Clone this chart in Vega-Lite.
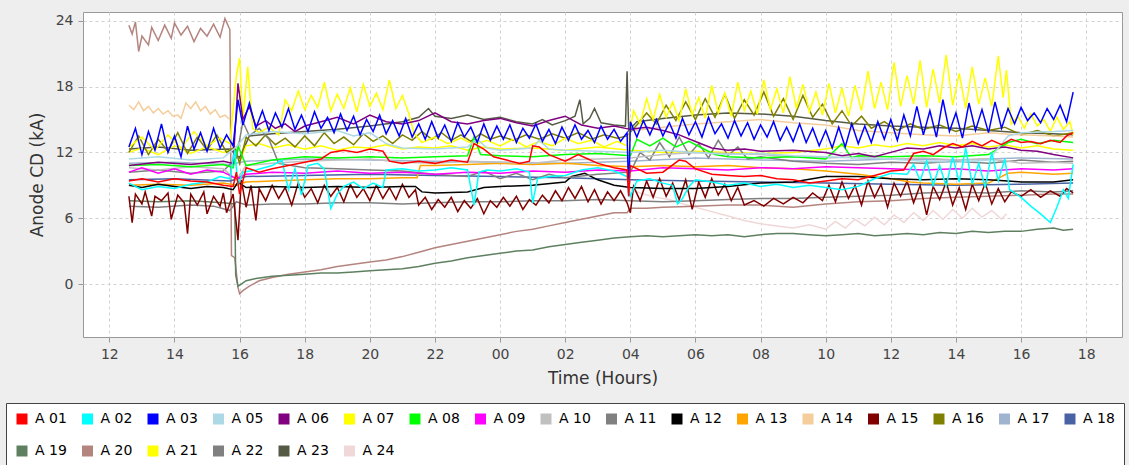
{
"$schema":"https://vega.github.io/schema/vega-lite/v6.json",
"width":1039,"height":325,
"autosize":{"type":"none"},
"padding":{"left":83,"top":12,"right":7,"bottom":128},
"background":"#eeeeee",
"config":{
 "font":"DejaVu Sans",
 "view":{"fill":"white","stroke":"#999999","strokeWidth":1},
 "axis":{"labelFont":"DejaVu Sans","titleFont":"DejaVu Sans","labelFontSize":14,"titleFontSize":17,"titleFontWeight":"normal","labelColor":"#444444","titleColor":"#333333","tickColor":"#999999","tickSize":5,"domain":false,"grid":true,"gridColor":"#d2d2d2","gridDash":[3,3],"gridWidth":1,"labelFlush":false,"labelOverlap":false}
},
"data":{"values":[
{"s":"A 24","t":28.0,"v":8.6},{"s":"A 24","t":28.4,"v":8.2},{"s":"A 24","t":28.8,"v":7.9},{"s":"A 24","t":29.2,"v":7.7},{"s":"A 24","t":29.5,"v":7.4},{"s":"A 24","t":30,"v":7.0},{"s":"A 24","t":30.5,"v":6.6},{"s":"A 24","t":31,"v":6.2},{"s":"A 24","t":31.5,"v":5.8},{"s":"A 24","t":32,"v":5.5},{"s":"A 24","t":32.5,"v":5.3},{"s":"A 24","t":33,"v":5.1},{"s":"A 24","t":33.5,"v":5.4},{"s":"A 24","t":34,"v":5.0},{"s":"A 24","t":34.3,"v":5.7},{"s":"A 24","t":34.6,"v":5.1},{"s":"A 24","t":34.9,"v":5.9},{"s":"A 24","t":35.2,"v":5.3},{"s":"A 24","t":35.5,"v":6.1},{"s":"A 24","t":35.8,"v":5.4},{"s":"A 24","t":36.1,"v":6.3},{"s":"A 24","t":36.4,"v":5.6},{"s":"A 24","t":36.7,"v":6.5},{"s":"A 24","t":37.0,"v":5.8},{"s":"A 24","t":37.3,"v":6.7},{"s":"A 24","t":37.6,"v":5.9},{"s":"A 24","t":37.9,"v":6.8},{"s":"A 24","t":38.2,"v":6.0},{"s":"A 24","t":38.5,"v":6.9},{"s":"A 24","t":38.8,"v":6.1},{"s":"A 24","t":39.1,"v":6.7},{"s":"A 24","t":39.4,"v":5.9},{"s":"A 24","t":39.55,"v":6.4},
{"s":"A 23","t":12.6,"v":12.3},{"s":"A 23","t":13.5,"v":12.5},{"s":"A 23","t":14.5,"v":12.2},{"s":"A 23","t":15.7,"v":12.3},{"s":"A 23","t":16.0,"v":11.5},{"s":"A 23","t":16.3,"v":13.5},{"s":"A 23","t":17,"v":13.7},{"s":"A 23","t":18,"v":13.9},{"s":"A 23","t":19,"v":14.1},{"s":"A 23","t":20,"v":14.4},{"s":"A 23","t":21,"v":14.8},{"s":"A 23","t":21.5,"v":15.2},{"s":"A 23","t":21.8,"v":16.0},{"s":"A 23","t":22.0,"v":15.3},{"s":"A 23","t":22.5,"v":15.1},{"s":"A 23","t":23,"v":15.4},{"s":"A 23","t":23.5,"v":15.0},{"s":"A 23","t":24,"v":15.2},{"s":"A 23","t":24.5,"v":14.8},{"s":"A 23","t":25,"v":14.6},{"s":"A 23","t":25.3,"v":15.0},{"s":"A 23","t":25.6,"v":14.5},{"s":"A 23","t":26.0,"v":14.9},{"s":"A 23","t":26.3,"v":15.3},{"s":"A 23","t":26.45,"v":16.8},{"s":"A 23","t":26.55,"v":14.6},{"s":"A 23","t":26.75,"v":15.1},{"s":"A 23","t":26.9,"v":16.0},{"s":"A 23","t":27.1,"v":14.7},{"s":"A 23","t":27.5,"v":14.5},{"s":"A 23","t":27.85,"v":14.4},{"s":"A 23","t":27.9,"v":19.4},{"s":"A 23","t":27.95,"v":14.0},{"s":"A 23","t":28.2,"v":14.8},{"s":"A 23","t":29,"v":15.1},{"s":"A 23","t":30,"v":15.4},{"s":"A 23","t":31,"v":15.6},{"s":"A 23","t":32,"v":15.5},{"s":"A 23","t":33,"v":15.3},{"s":"A 23","t":34,"v":14.9},{"s":"A 23","t":35,"v":14.6},{"s":"A 23","t":36,"v":14.4},{"s":"A 23","t":37,"v":14.3},{"s":"A 23","t":38,"v":14.2},{"s":"A 23","t":39,"v":14.0},{"s":"A 23","t":40,"v":13.8},{"s":"A 23","t":41,"v":13.7},{"s":"A 23","t":41.6,"v":13.6},
{"s":"A 22","t":12.6,"v":7.1},{"s":"A 22","t":13.5,"v":7.0},{"s":"A 22","t":14.5,"v":7.2},{"s":"A 22","t":15.2,"v":7.1},{"s":"A 22","t":15.7,"v":6.7},{"s":"A 22","t":15.9,"v":7.5},{"s":"A 22","t":16.2,"v":7.2},{"s":"A 22","t":17,"v":7.3},{"s":"A 22","t":18,"v":7.3},{"s":"A 22","t":19,"v":7.4},{"s":"A 22","t":20,"v":7.4},{"s":"A 22","t":21,"v":7.3},{"s":"A 22","t":22,"v":7.4},{"s":"A 22","t":23,"v":7.5},{"s":"A 22","t":24,"v":7.5},{"s":"A 22","t":25,"v":7.6},{"s":"A 22","t":26,"v":7.6},{"s":"A 22","t":27,"v":7.7},{"s":"A 22","t":28,"v":7.6},{"s":"A 22","t":29,"v":7.5},{"s":"A 22","t":30,"v":7.6},{"s":"A 22","t":31,"v":7.7},{"s":"A 22","t":32,"v":7.8},{"s":"A 22","t":33,"v":7.8},{"s":"A 22","t":34,"v":7.9},{"s":"A 22","t":35,"v":8.0},{"s":"A 22","t":36,"v":8.1},{"s":"A 22","t":37,"v":8.3},{"s":"A 22","t":38,"v":8.4},{"s":"A 22","t":39,"v":8.3},{"s":"A 22","t":40,"v":8.5},{"s":"A 22","t":41,"v":8.4},{"s":"A 22","t":41.6,"v":8.5},
{"s":"A 21","t":12.6,"v":12.0},{"s":"A 21","t":13,"v":12.4},{"s":"A 21","t":13.5,"v":11.8},{"s":"A 21","t":14,"v":12.6},{"s":"A 21","t":14.5,"v":11.9},{"s":"A 21","t":15,"v":12.5},{"s":"A 21","t":15.5,"v":12.0},{"s":"A 21","t":15.8,"v":12.3},{"s":"A 21","t":16.0,"v":11.2},{"s":"A 21","t":16.2,"v":12.6},{"s":"A 21","t":16.6,"v":12.8},{"s":"A 21","t":17,"v":12.4},{"s":"A 21","t":17.5,"v":12.7},{"s":"A 21","t":18,"v":12.3},{"s":"A 21","t":18.5,"v":12.6},{"s":"A 21","t":19,"v":12.2},{"s":"A 21","t":19.5,"v":12.5},{"s":"A 21","t":20,"v":12.4},{"s":"A 21","t":20.5,"v":12.7},{"s":"A 21","t":21,"v":12.3},{"s":"A 21","t":21.5,"v":12.5},{"s":"A 21","t":22,"v":12.4},{"s":"A 21","t":22.5,"v":12.6},{"s":"A 21","t":23,"v":12.2},{"s":"A 21","t":23.5,"v":12.5},{"s":"A 21","t":24,"v":12.3},{"s":"A 21","t":25,"v":12.4},{"s":"A 21","t":26,"v":12.2},{"s":"A 21","t":27,"v":12.5},{"s":"A 21","t":28,"v":12.2},{"s":"A 21","t":29,"v":12.0},{"s":"A 21","t":30,"v":12.1},{"s":"A 21","t":31,"v":12.0},{"s":"A 21","t":32,"v":11.9},{"s":"A 21","t":33,"v":12.0},{"s":"A 21","t":34,"v":12.3},{"s":"A 21","t":34.5,"v":12.6},{"s":"A 21","t":35,"v":12.4},{"s":"A 21","t":35.5,"v":12.7},{"s":"A 21","t":36,"v":12.5},{"s":"A 21","t":36.5,"v":12.8},{"s":"A 21","t":37,"v":12.6},{"s":"A 21","t":37.5,"v":12.9},{"s":"A 21","t":38,"v":12.6},{"s":"A 21","t":38.5,"v":12.8},{"s":"A 21","t":39,"v":12.5},{"s":"A 21","t":39.5,"v":12.7},{"s":"A 21","t":40,"v":12.4},{"s":"A 21","t":40.5,"v":12.6},{"s":"A 21","t":41,"v":12.3},{"s":"A 21","t":41.6,"v":12.2},
{"s":"A 20","t":12.6,"v":23.6},{"s":"A 20","t":12.7,"v":22.8},{"s":"A 20","t":12.8,"v":23.9},{"s":"A 20","t":12.9,"v":21.2},{"s":"A 20","t":13.0,"v":22.6},{"s":"A 20","t":13.2,"v":21.8},{"s":"A 20","t":13.3,"v":23.4},{"s":"A 20","t":13.5,"v":22.2},{"s":"A 20","t":13.7,"v":23.6},{"s":"A 20","t":13.9,"v":22.4},{"s":"A 20","t":14.0,"v":23.8},{"s":"A 20","t":14.2,"v":22.7},{"s":"A 20","t":14.4,"v":23.5},{"s":"A 20","t":14.6,"v":22.1},{"s":"A 20","t":14.8,"v":23.3},{"s":"A 20","t":15.0,"v":22.6},{"s":"A 20","t":15.2,"v":23.7},{"s":"A 20","t":15.4,"v":22.5},{"s":"A 20","t":15.55,"v":24.2},{"s":"A 20","t":15.7,"v":23.2},{"s":"A 20","t":15.75,"v":2.6},{"s":"A 20","t":15.85,"v":2.4},{"s":"A 20","t":15.95,"v":-0.3},{"s":"A 20","t":16.0,"v":-0.9},{"s":"A 20","t":16.1,"v":-0.6},{"s":"A 20","t":16.3,"v":-0.2},{"s":"A 20","t":16.6,"v":0.3},{"s":"A 20","t":17.0,"v":0.6},{"s":"A 20","t":17.5,"v":0.9},{"s":"A 20","t":18.0,"v":1.1},{"s":"A 20","t":18.5,"v":1.3},{"s":"A 20","t":19.0,"v":1.6},{"s":"A 20","t":19.5,"v":1.8},{"s":"A 20","t":20.0,"v":2.0},{"s":"A 20","t":20.5,"v":2.2},{"s":"A 20","t":21.0,"v":2.5},{"s":"A 20","t":21.5,"v":2.9},{"s":"A 20","t":22.0,"v":3.3},{"s":"A 20","t":22.5,"v":3.6},{"s":"A 20","t":23.0,"v":3.9},{"s":"A 20","t":23.5,"v":4.2},{"s":"A 20","t":24.0,"v":4.5},{"s":"A 20","t":24.5,"v":4.8},{"s":"A 20","t":25.0,"v":5.0},{"s":"A 20","t":25.5,"v":5.3},{"s":"A 20","t":26.0,"v":5.6},{"s":"A 20","t":26.5,"v":5.9},{"s":"A 20","t":27.0,"v":6.2},{"s":"A 20","t":27.5,"v":6.5},{"s":"A 20","t":27.9,"v":6.5},{"s":"A 20","t":28.0,"v":6.9},{"s":"A 20","t":28.5,"v":6.9},{"s":"A 20","t":29.0,"v":7.0},{"s":"A 20","t":30.0,"v":7.1},{"s":"A 20","t":31.0,"v":7.2},{"s":"A 20","t":32.0,"v":7.2},{"s":"A 20","t":33.0,"v":7.0},{"s":"A 20","t":34.0,"v":7.3},{"s":"A 20","t":35.0,"v":7.5},{"s":"A 20","t":36.0,"v":7.6},{"s":"A 20","t":37.0,"v":7.8},{"s":"A 20","t":38.0,"v":7.9},{"s":"A 20","t":39.0,"v":8.0},{"s":"A 20","t":40.0,"v":8.1},{"s":"A 20","t":41.0,"v":8.2},{"s":"A 20","t":41.6,"v":8.2},
{"s":"A 19","t":12.6,"v":7.6},{"s":"A 19","t":13.5,"v":7.5},{"s":"A 19","t":14.5,"v":7.6},{"s":"A 19","t":15.5,"v":7.4},{"s":"A 19","t":15.85,"v":7.3},{"s":"A 19","t":15.88,"v":0.8},{"s":"A 19","t":15.95,"v":-0.2},{"s":"A 19","t":16.05,"v":0.0},{"s":"A 19","t":16.2,"v":0.3},{"s":"A 19","t":16.5,"v":0.5},{"s":"A 19","t":17.0,"v":0.7},{"s":"A 19","t":17.5,"v":0.8},{"s":"A 19","t":18.0,"v":0.9},{"s":"A 19","t":18.5,"v":1.0},{"s":"A 19","t":19.0,"v":1.0},{"s":"A 19","t":19.5,"v":1.1},{"s":"A 19","t":20.0,"v":1.2},{"s":"A 19","t":20.5,"v":1.3},{"s":"A 19","t":21.0,"v":1.4},{"s":"A 19","t":21.5,"v":1.6},{"s":"A 19","t":22.0,"v":1.9},{"s":"A 19","t":22.5,"v":2.1},{"s":"A 19","t":23.0,"v":2.4},{"s":"A 19","t":23.5,"v":2.6},{"s":"A 19","t":24.0,"v":2.8},{"s":"A 19","t":24.5,"v":3.0},{"s":"A 19","t":25.0,"v":3.1},{"s":"A 19","t":25.5,"v":3.4},{"s":"A 19","t":26.0,"v":3.6},{"s":"A 19","t":26.5,"v":3.8},{"s":"A 19","t":27.0,"v":4.0},{"s":"A 19","t":27.5,"v":4.2},{"s":"A 19","t":28.0,"v":4.3},{"s":"A 19","t":28.5,"v":4.4},{"s":"A 19","t":29.0,"v":4.3},{"s":"A 19","t":29.5,"v":4.4},{"s":"A 19","t":30.0,"v":4.5},{"s":"A 19","t":30.5,"v":4.4},{"s":"A 19","t":31.0,"v":4.5},{"s":"A 19","t":31.5,"v":4.3},{"s":"A 19","t":32.0,"v":4.5},{"s":"A 19","t":32.5,"v":4.6},{"s":"A 19","t":33.0,"v":4.6},{"s":"A 19","t":33.5,"v":4.5},{"s":"A 19","t":34.0,"v":4.4},{"s":"A 19","t":34.5,"v":4.5},{"s":"A 19","t":35.0,"v":4.6},{"s":"A 19","t":35.5,"v":4.4},{"s":"A 19","t":36.0,"v":4.5},{"s":"A 19","t":36.5,"v":4.6},{"s":"A 19","t":37.0,"v":4.5},{"s":"A 19","t":37.5,"v":4.7},{"s":"A 19","t":38.0,"v":4.6},{"s":"A 19","t":38.5,"v":4.8},{"s":"A 19","t":39.0,"v":4.7},{"s":"A 19","t":39.5,"v":4.8},{"s":"A 19","t":40.0,"v":4.8},{"s":"A 19","t":40.5,"v":5.0},{"s":"A 19","t":41.0,"v":5.1},{"s":"A 19","t":41.3,"v":4.9},{"s":"A 19","t":41.6,"v":5.0},
{"s":"A 18","t":12.6,"v":9.5},{"s":"A 18","t":14,"v":9.6},{"s":"A 18","t":15.7,"v":9.4},{"s":"A 18","t":16.2,"v":9.8},{"s":"A 18","t":18,"v":9.9},{"s":"A 18","t":20,"v":10.0},{"s":"A 18","t":22,"v":9.9},{"s":"A 18","t":24,"v":9.8},{"s":"A 18","t":26,"v":9.7},{"s":"A 18","t":28,"v":9.5},{"s":"A 18","t":30,"v":9.4},{"s":"A 18","t":32,"v":9.3},{"s":"A 18","t":34,"v":9.2},{"s":"A 18","t":36,"v":9.1},{"s":"A 18","t":38,"v":9.0},{"s":"A 18","t":40,"v":9.1},{"s":"A 18","t":41.6,"v":9.2},
{"s":"A 17","t":12.6,"v":11.0},{"s":"A 17","t":14,"v":11.1},{"s":"A 17","t":15.7,"v":10.9},{"s":"A 17","t":16.2,"v":11.2},{"s":"A 17","t":18,"v":11.4},{"s":"A 17","t":20,"v":11.3},{"s":"A 17","t":22,"v":11.2},{"s":"A 17","t":24,"v":11.1},{"s":"A 17","t":26,"v":11.0},{"s":"A 17","t":28,"v":11.2},{"s":"A 17","t":30,"v":11.5},{"s":"A 17","t":32,"v":11.3},{"s":"A 17","t":34,"v":11.2},{"s":"A 17","t":36,"v":11.4},{"s":"A 17","t":38,"v":11.3},{"s":"A 17","t":40,"v":11.5},{"s":"A 17","t":41.6,"v":11.4},
{"s":"A 16","t":12.6,"v":12.0},{"s":"A 16","t":12.9,"v":13.5},{"s":"A 16","t":13.2,"v":11.8},{"s":"A 16","t":13.5,"v":13.2},{"s":"A 16","t":13.8,"v":12.1},{"s":"A 16","t":14.1,"v":13.8},{"s":"A 16","t":14.4,"v":11.9},{"s":"A 16","t":14.7,"v":13.4},{"s":"A 16","t":15.0,"v":12.2},{"s":"A 16","t":15.3,"v":13.6},{"s":"A 16","t":15.6,"v":12.0},{"s":"A 16","t":15.85,"v":12.5},{"s":"A 16","t":16.0,"v":11.0},{"s":"A 16","t":16.2,"v":13.4},{"s":"A 16","t":16.5,"v":12.6},{"s":"A 16","t":16.8,"v":13.6},{"s":"A 16","t":17.1,"v":12.7},{"s":"A 16","t":17.4,"v":13.3},{"s":"A 16","t":17.7,"v":12.5},{"s":"A 16","t":18.0,"v":13.5},{"s":"A 16","t":18.3,"v":12.6},{"s":"A 16","t":18.6,"v":13.8},{"s":"A 16","t":18.9,"v":12.8},{"s":"A 16","t":19.2,"v":13.4},{"s":"A 16","t":19.5,"v":12.7},{"s":"A 16","t":19.8,"v":13.7},{"s":"A 16","t":20.1,"v":13.0},{"s":"A 16","t":20.4,"v":13.5},{"s":"A 16","t":20.7,"v":12.8},{"s":"A 16","t":21.0,"v":13.6},{"s":"A 16","t":21.3,"v":13.1},{"s":"A 16","t":21.6,"v":13.9},{"s":"A 16","t":21.9,"v":13.2},{"s":"A 16","t":22.2,"v":13.8},{"s":"A 16","t":22.5,"v":13.1},{"s":"A 16","t":22.8,"v":13.6},{"s":"A 16","t":23.1,"v":13.0},{"s":"A 16","t":23.4,"v":13.7},{"s":"A 16","t":23.7,"v":13.2},{"s":"A 16","t":24.0,"v":13.5},{"s":"A 16","t":24.4,"v":13.1},{"s":"A 16","t":24.8,"v":13.6},{"s":"A 16","t":25.2,"v":13.2},{"s":"A 16","t":25.6,"v":13.7},{"s":"A 16","t":26.0,"v":13.3},{"s":"A 16","t":26.4,"v":13.8},{"s":"A 16","t":26.8,"v":13.2},{"s":"A 16","t":27.2,"v":13.6},{"s":"A 16","t":27.6,"v":13.3},{"s":"A 16","t":27.9,"v":13.5},{"s":"A 16","t":28.2,"v":14.5},{"s":"A 16","t":28.5,"v":15.6},{"s":"A 16","t":28.8,"v":14.6},{"s":"A 16","t":29.1,"v":16.3},{"s":"A 16","t":29.4,"v":14.9},{"s":"A 16","t":29.7,"v":16.6},{"s":"A 16","t":30.0,"v":15.0},{"s":"A 16","t":30.3,"v":16.9},{"s":"A 16","t":30.6,"v":15.2},{"s":"A 16","t":30.9,"v":17.3},{"s":"A 16","t":31.2,"v":15.1},{"s":"A 16","t":31.5,"v":16.8},{"s":"A 16","t":31.8,"v":15.4},{"s":"A 16","t":32.1,"v":17.5},{"s":"A 16","t":32.4,"v":15.3},{"s":"A 16","t":32.7,"v":16.9},{"s":"A 16","t":33.0,"v":15.0},{"s":"A 16","t":33.3,"v":17.2},{"s":"A 16","t":33.6,"v":15.2},{"s":"A 16","t":33.9,"v":16.4},{"s":"A 16","t":34.2,"v":14.6},{"s":"A 16","t":34.5,"v":15.8},{"s":"A 16","t":34.8,"v":14.4},{"s":"A 16","t":35.1,"v":15.3},{"s":"A 16","t":35.4,"v":14.2},{"s":"A 16","t":35.8,"v":14.8},{"s":"A 16","t":36.2,"v":14.0},{"s":"A 16","t":36.6,"v":14.6},{"s":"A 16","t":37.0,"v":14.1},{"s":"A 16","t":37.5,"v":14.5},{"s":"A 16","t":38.0,"v":13.9},{"s":"A 16","t":38.5,"v":14.4},{"s":"A 16","t":39.0,"v":14.0},{"s":"A 16","t":39.5,"v":14.3},{"s":"A 16","t":40.0,"v":13.6},{"s":"A 16","t":40.5,"v":14.0},{"s":"A 16","t":41.0,"v":13.5},{"s":"A 16","t":41.6,"v":13.8},
{"s":"A 15","t":12.6,"v":8.0},{"s":"A 15","t":12.7,"v":5.6},{"s":"A 15","t":12.8,"v":8.2},{"s":"A 15","t":13.0,"v":7.3},{"s":"A 15","t":13.1,"v":8.4},{"s":"A 15","t":13.3,"v":6.2},{"s":"A 15","t":13.4,"v":8.0},{"s":"A 15","t":13.6,"v":7.6},{"s":"A 15","t":13.8,"v":8.3},{"s":"A 15","t":13.9,"v":5.9},{"s":"A 15","t":14.1,"v":8.1},{"s":"A 15","t":14.3,"v":7.4},{"s":"A 15","t":14.4,"v":4.6},{"s":"A 15","t":14.5,"v":8.2},{"s":"A 15","t":14.7,"v":7.2},{"s":"A 15","t":14.9,"v":8.4},{"s":"A 15","t":15.0,"v":6.4},{"s":"A 15","t":15.2,"v":8.0},{"s":"A 15","t":15.4,"v":7.1},{"s":"A 15","t":15.5,"v":8.3},{"s":"A 15","t":15.6,"v":6.5},{"s":"A 15","t":15.8,"v":8.2},{"s":"A 15","t":15.95,"v":4.0},{"s":"A 15","t":16.05,"v":9.5},{"s":"A 15","t":16.2,"v":7.0},{"s":"A 15","t":16.35,"v":9.0},{"s":"A 15","t":16.5,"v":5.8},{"s":"A 15","t":16.6,"v":8.7},{"s":"A 15","t":16.8,"v":7.6},{"s":"A 15","t":17.0,"v":9.0},{"s":"A 15","t":17.2,"v":7.8},{"s":"A 15","t":17.4,"v":8.8},{"s":"A 15","t":17.6,"v":7.2},{"s":"A 15","t":17.8,"v":9.2},{"s":"A 15","t":18.0,"v":7.9},{"s":"A 15","t":18.2,"v":8.7},{"s":"A 15","t":18.4,"v":7.4},{"s":"A 15","t":18.6,"v":9.0},{"s":"A 15","t":18.8,"v":8.0},{"s":"A 15","t":19.0,"v":8.8},{"s":"A 15","t":19.2,"v":7.5},{"s":"A 15","t":19.4,"v":9.1},{"s":"A 15","t":19.6,"v":7.9},{"s":"A 15","t":19.8,"v":8.7},{"s":"A 15","t":20.0,"v":7.6},{"s":"A 15","t":20.2,"v":9.0},{"s":"A 15","t":20.4,"v":7.8},{"s":"A 15","t":20.6,"v":8.8},{"s":"A 15","t":20.8,"v":7.7},{"s":"A 15","t":21.0,"v":9.1},{"s":"A 15","t":21.2,"v":7.9},{"s":"A 15","t":21.4,"v":8.6},{"s":"A 15","t":21.5,"v":7.2},{"s":"A 15","t":21.7,"v":7.9},{"s":"A 15","t":21.9,"v":6.8},{"s":"A 15","t":22.1,"v":7.7},{"s":"A 15","t":22.3,"v":7.0},{"s":"A 15","t":22.5,"v":7.9},{"s":"A 15","t":22.7,"v":6.6},{"s":"A 15","t":22.9,"v":7.6},{"s":"A 15","t":23.1,"v":6.9},{"s":"A 15","t":23.3,"v":7.8},{"s":"A 15","t":23.5,"v":6.4},{"s":"A 15","t":23.7,"v":7.6},{"s":"A 15","t":23.9,"v":7.0},{"s":"A 15","t":24.1,"v":7.9},{"s":"A 15","t":24.3,"v":7.1},{"s":"A 15","t":24.5,"v":8.0},{"s":"A 15","t":24.7,"v":6.8},{"s":"A 15","t":24.9,"v":7.7},{"s":"A 15","t":25.1,"v":7.2},{"s":"A 15","t":25.3,"v":8.1},{"s":"A 15","t":25.5,"v":7.4},{"s":"A 15","t":25.7,"v":8.5},{"s":"A 15","t":25.9,"v":7.6},{"s":"A 15","t":26.1,"v":8.8},{"s":"A 15","t":26.3,"v":7.8},{"s":"A 15","t":26.5,"v":8.9},{"s":"A 15","t":26.7,"v":7.5},{"s":"A 15","t":26.9,"v":8.6},{"s":"A 15","t":27.1,"v":7.3},{"s":"A 15","t":27.3,"v":8.4},{"s":"A 15","t":27.5,"v":7.6},{"s":"A 15","t":27.7,"v":8.5},{"s":"A 15","t":27.9,"v":7.4},{"s":"A 15","t":28.0,"v":6.5},{"s":"A 15","t":28.1,"v":8.9},{"s":"A 15","t":28.3,"v":7.6},{"s":"A 15","t":28.5,"v":9.4},{"s":"A 15","t":28.7,"v":7.9},{"s":"A 15","t":28.9,"v":9.6},{"s":"A 15","t":29.1,"v":8.0},{"s":"A 15","t":29.3,"v":9.2},{"s":"A 15","t":29.5,"v":7.7},{"s":"A 15","t":29.7,"v":9.5},{"s":"A 15","t":29.9,"v":6.8},{"s":"A 15","t":30.1,"v":9.3},{"s":"A 15","t":30.3,"v":7.9},{"s":"A 15","t":30.5,"v":9.6},{"s":"A 15","t":30.7,"v":8.1},{"s":"A 15","t":30.9,"v":9.1},{"s":"A 15","t":31.1,"v":7.6},{"s":"A 15","t":31.3,"v":8.8},{"s":"A 15","t":31.5,"v":7.2},{"s":"A 15","t":31.8,"v":7.6},{"s":"A 15","t":32.1,"v":7.1},{"s":"A 15","t":32.4,"v":7.8},{"s":"A 15","t":32.7,"v":7.3},{"s":"A 15","t":33.0,"v":7.9},{"s":"A 15","t":33.3,"v":7.4},{"s":"A 15","t":33.6,"v":8.3},{"s":"A 15","t":33.9,"v":7.6},{"s":"A 15","t":34.1,"v":9.0},{"s":"A 15","t":34.3,"v":7.5},{"s":"A 15","t":34.5,"v":9.3},{"s":"A 15","t":34.7,"v":7.8},{"s":"A 15","t":34.9,"v":9.0},{"s":"A 15","t":35.1,"v":7.2},{"s":"A 15","t":35.3,"v":9.4},{"s":"A 15","t":35.5,"v":7.9},{"s":"A 15","t":35.7,"v":9.1},{"s":"A 15","t":35.9,"v":7.0},{"s":"A 15","t":36.1,"v":9.2},{"s":"A 15","t":36.3,"v":8.0},{"s":"A 15","t":36.5,"v":9.4},{"s":"A 15","t":36.7,"v":7.4},{"s":"A 15","t":36.9,"v":9.0},{"s":"A 15","t":37.1,"v":6.3},{"s":"A 15","t":37.3,"v":8.9},{"s":"A 15","t":37.5,"v":7.7},{"s":"A 15","t":37.7,"v":9.3},{"s":"A 15","t":37.9,"v":7.2},{"s":"A 15","t":38.1,"v":8.8},{"s":"A 15","t":38.3,"v":6.8},{"s":"A 15","t":38.5,"v":9.1},{"s":"A 15","t":38.7,"v":7.6},{"s":"A 15","t":38.9,"v":9.2},{"s":"A 15","t":39.1,"v":7.3},{"s":"A 15","t":39.3,"v":8.7},{"s":"A 15","t":39.5,"v":7.5},{"s":"A 15","t":39.7,"v":8.4},{"s":"A 15","t":40.0,"v":8.0},{"s":"A 15","t":40.3,"v":8.6},{"s":"A 15","t":40.6,"v":7.9},{"s":"A 15","t":40.9,"v":8.5},{"s":"A 15","t":41.2,"v":8.0},{"s":"A 15","t":41.4,"v":8.7},{"s":"A 15","t":41.6,"v":8.3},
{"s":"A 14","t":12.6,"v":16.3},{"s":"A 14","t":12.75,"v":15.9},{"s":"A 14","t":12.9,"v":16.6},{"s":"A 14","t":13.05,"v":15.8},{"s":"A 14","t":13.2,"v":16.2},{"s":"A 14","t":13.35,"v":15.6},{"s":"A 14","t":13.5,"v":16.0},{"s":"A 14","t":13.65,"v":15.5},{"s":"A 14","t":13.8,"v":15.8},{"s":"A 14","t":13.95,"v":15.3},{"s":"A 14","t":14.1,"v":15.4},{"s":"A 14","t":14.2,"v":15.1},{"s":"A 14","t":14.35,"v":16.5},{"s":"A 14","t":14.5,"v":16.0},{"s":"A 14","t":14.65,"v":16.6},{"s":"A 14","t":14.8,"v":15.8},{"s":"A 14","t":14.95,"v":16.2},{"s":"A 14","t":15.1,"v":15.5},{"s":"A 14","t":15.25,"v":15.9},{"s":"A 14","t":15.4,"v":15.2},{"s":"A 14","t":15.55,"v":15.4},{"s":"A 14","t":15.7,"v":15.0},
{"s":"A 14","g":2,"t":28.1,"v":14.0},{"s":"A 14","g":2,"t":29,"v":14.3},{"s":"A 14","g":2,"t":30,"v":14.6},{"s":"A 14","g":2,"t":31,"v":14.8},{"s":"A 14","g":2,"t":32,"v":15.0},{"s":"A 14","g":2,"t":33,"v":14.7},{"s":"A 14","g":2,"t":34,"v":14.5},{"s":"A 14","g":2,"t":35,"v":14.0},{"s":"A 14","g":2,"t":36,"v":13.8},{"s":"A 14","g":2,"t":37,"v":13.6},{"s":"A 14","g":2,"t":38,"v":13.5},{"s":"A 14","g":2,"t":39,"v":13.8},{"s":"A 14","g":2,"t":40,"v":13.6},{"s":"A 14","g":2,"t":41,"v":13.5},{"s":"A 14","g":2,"t":41.6,"v":13.4},
{"s":"A 13","t":12.6,"v":9.0},{"s":"A 13","t":13.5,"v":9.1},{"s":"A 13","t":14.5,"v":9.0},{"s":"A 13","t":15.5,"v":9.2},{"s":"A 13","t":15.9,"v":9.0},{"s":"A 13","t":16.2,"v":9.3},{"s":"A 13","t":17,"v":9.4},{"s":"A 13","t":18,"v":9.5},{"s":"A 13","t":19,"v":9.6},{"s":"A 13","t":20,"v":9.6},{"s":"A 13","t":21,"v":9.7},{"s":"A 13","t":21.45,"v":9.7},{"s":"A 13","t":21.55,"v":10.8},{"s":"A 13","t":22,"v":10.8},{"s":"A 13","t":23,"v":10.9},{"s":"A 13","t":24,"v":11.0},{"s":"A 13","t":25,"v":10.9},{"s":"A 13","t":26,"v":11.0},{"s":"A 13","t":27,"v":10.8},{"s":"A 13","t":28,"v":10.7},{"s":"A 13","t":29,"v":10.8},{"s":"A 13","t":30,"v":10.7},{"s":"A 13","t":31,"v":10.8},{"s":"A 13","t":32,"v":10.6},{"s":"A 13","t":33,"v":10.5},{"s":"A 13","t":34,"v":10.3},{"s":"A 13","t":35,"v":10.0},{"s":"A 13","t":36,"v":9.6},{"s":"A 13","t":36.6,"v":9.3},{"s":"A 13","t":37,"v":9.2},{"s":"A 13","t":38,"v":9.1},{"s":"A 13","t":39,"v":9.2},{"s":"A 13","t":39.6,"v":10.1},{"s":"A 13","t":40,"v":10.2},{"s":"A 13","t":41,"v":10.0},{"s":"A 13","t":41.6,"v":10.1},
{"s":"A 12","t":12.6,"v":9.0},{"s":"A 12","t":13.0,"v":8.8},{"s":"A 12","t":13.5,"v":9.1},{"s":"A 12","t":14.0,"v":8.9},{"s":"A 12","t":14.5,"v":8.7},{"s":"A 12","t":15.0,"v":8.9},{"s":"A 12","t":15.5,"v":8.8},{"s":"A 12","t":15.8,"v":8.6},{"s":"A 12","t":15.95,"v":9.3},{"s":"A 12","t":16.2,"v":8.8},{"s":"A 12","t":17,"v":8.9},{"s":"A 12","t":18,"v":8.8},{"s":"A 12","t":19,"v":8.9},{"s":"A 12","t":20,"v":8.8},{"s":"A 12","t":21,"v":8.9},{"s":"A 12","t":21.4,"v":8.9},{"s":"A 12","t":21.6,"v":8.4},{"s":"A 12","t":22,"v":8.3},{"s":"A 12","t":23,"v":8.4},{"s":"A 12","t":23.5,"v":8.8},{"s":"A 12","t":24,"v":8.9},{"s":"A 12","t":25,"v":9.0},{"s":"A 12","t":26,"v":9.3},{"s":"A 12","t":26.2,"v":9.8},{"s":"A 12","t":26.6,"v":10.1},{"s":"A 12","t":27.0,"v":9.5},{"s":"A 12","t":27.5,"v":9.0},{"s":"A 12","t":28.0,"v":8.8},{"s":"A 12","t":29,"v":8.7},{"s":"A 12","t":30,"v":8.7},{"s":"A 12","t":31,"v":8.9},{"s":"A 12","t":32,"v":9.2},{"s":"A 12","t":33,"v":9.3},{"s":"A 12","t":34,"v":9.8},{"s":"A 12","t":35,"v":9.8},{"s":"A 12","t":36,"v":9.6},{"s":"A 12","t":37,"v":9.5},{"s":"A 12","t":38,"v":9.6},{"s":"A 12","t":39,"v":9.5},{"s":"A 12","t":39.6,"v":9.4},{"s":"A 12","t":40,"v":9.3},{"s":"A 12","t":41,"v":9.3},{"s":"A 12","t":41.6,"v":9.5},
{"s":"A 11","t":12.6,"v":10.2},{"s":"A 11","t":13.5,"v":10.4},{"s":"A 11","t":14.5,"v":10.1},{"s":"A 11","t":15.5,"v":10.3},{"s":"A 11","t":15.9,"v":11.5},{"s":"A 11","t":16.1,"v":14.8},{"s":"A 11","t":16.3,"v":13.5},{"s":"A 11","t":16.6,"v":14.2},{"s":"A 11","t":16.9,"v":13.2},{"s":"A 11","t":17.2,"v":11.0},{"s":"A 11","t":18,"v":10.6},{"s":"A 11","t":19,"v":10.5},{"s":"A 11","t":20,"v":10.4},{"s":"A 11","t":21,"v":10.3},{"s":"A 11","t":22,"v":10.0},{"s":"A 11","t":23,"v":9.8},{"s":"A 11","t":23.5,"v":10.3},{"s":"A 11","t":24,"v":9.6},{"s":"A 11","t":24.5,"v":10.1},{"s":"A 11","t":25,"v":9.5},{"s":"A 11","t":25.5,"v":10.0},{"s":"A 11","t":26,"v":9.7},{"s":"A 11","t":27,"v":10.0},{"s":"A 11","t":28,"v":10.2},{"s":"A 11","t":28.3,"v":12.0},{"s":"A 11","t":28.6,"v":11.3},{"s":"A 11","t":28.9,"v":12.9},{"s":"A 11","t":29.2,"v":11.6},{"s":"A 11","t":29.5,"v":13.4},{"s":"A 11","t":29.8,"v":11.8},{"s":"A 11","t":30.1,"v":12.8},{"s":"A 11","t":30.4,"v":11.5},{"s":"A 11","t":30.7,"v":13.1},{"s":"A 11","t":31.0,"v":11.7},{"s":"A 11","t":31.3,"v":12.5},{"s":"A 11","t":31.6,"v":11.4},{"s":"A 11","t":32,"v":11.6},{"s":"A 11","t":33,"v":11.2},{"s":"A 11","t":34,"v":11.0},{"s":"A 11","t":35,"v":10.9},{"s":"A 11","t":36,"v":11.1},{"s":"A 11","t":37,"v":11.0},{"s":"A 11","t":38,"v":11.2},{"s":"A 11","t":39,"v":11.0},{"s":"A 11","t":40,"v":11.3},{"s":"A 11","t":41,"v":11.1},{"s":"A 11","t":41.6,"v":11.2},
{"s":"A 10","t":12.6,"v":10.6},{"s":"A 10","t":13.5,"v":10.4},{"s":"A 10","t":14.5,"v":10.7},{"s":"A 10","t":15.5,"v":10.5},{"s":"A 10","t":15.9,"v":9.5},{"s":"A 10","t":16.2,"v":10.8},{"s":"A 10","t":17,"v":11.0},{"s":"A 10","t":18,"v":11.2},{"s":"A 10","t":19,"v":11.3},{"s":"A 10","t":20,"v":11.4},{"s":"A 10","t":21,"v":11.1},{"s":"A 10","t":22,"v":11.0},{"s":"A 10","t":23,"v":11.2},{"s":"A 10","t":24,"v":11.1},{"s":"A 10","t":25,"v":11.0},{"s":"A 10","t":26,"v":11.3},{"s":"A 10","t":27,"v":11.4},{"s":"A 10","t":28,"v":11.5},{"s":"A 10","t":29,"v":11.8},{"s":"A 10","t":30,"v":12.0},{"s":"A 10","t":31,"v":11.9},{"s":"A 10","t":32,"v":11.8},{"s":"A 10","t":33,"v":11.6},{"s":"A 10","t":34,"v":11.5},{"s":"A 10","t":35,"v":11.6},{"s":"A 10","t":36,"v":11.4},{"s":"A 10","t":37,"v":11.5},{"s":"A 10","t":38,"v":11.3},{"s":"A 10","t":39,"v":11.4},{"s":"A 10","t":39.6,"v":11.2},{"s":"A 10","t":40,"v":11.0},{"s":"A 10","t":41,"v":11.1},{"s":"A 10","t":41.6,"v":11.0},
{"s":"A 09","t":12.6,"v":10.2},{"s":"A 09","t":13,"v":10.6},{"s":"A 09","t":13.5,"v":10.1},{"s":"A 09","t":14,"v":10.5},{"s":"A 09","t":14.5,"v":10.0},{"s":"A 09","t":15,"v":10.4},{"s":"A 09","t":15.5,"v":10.2},{"s":"A 09","t":15.9,"v":9.6},{"s":"A 09","t":16.2,"v":10.0},{"s":"A 09","t":17,"v":10.2},{"s":"A 09","t":18,"v":10.1},{"s":"A 09","t":19,"v":10.3},{"s":"A 09","t":20,"v":10.1},{"s":"A 09","t":21,"v":10.2},{"s":"A 09","t":22,"v":10.0},{"s":"A 09","t":23,"v":10.2},{"s":"A 09","t":24,"v":10.1},{"s":"A 09","t":25,"v":10.3},{"s":"A 09","t":26,"v":10.2},{"s":"A 09","t":27,"v":10.4},{"s":"A 09","t":28,"v":10.3},{"s":"A 09","t":29,"v":10.6},{"s":"A 09","t":30,"v":10.5},{"s":"A 09","t":31,"v":10.4},{"s":"A 09","t":32,"v":10.6},{"s":"A 09","t":33,"v":10.5},{"s":"A 09","t":34,"v":10.7},{"s":"A 09","t":35,"v":10.6},{"s":"A 09","t":36,"v":10.5},{"s":"A 09","t":37,"v":10.4},{"s":"A 09","t":38,"v":10.5},{"s":"A 09","t":39,"v":10.3},{"s":"A 09","t":40,"v":10.5},{"s":"A 09","t":41,"v":10.4},{"s":"A 09","t":41.6,"v":10.5},
{"s":"A 08","t":12.6,"v":10.8},{"s":"A 08","t":13.5,"v":10.9},{"s":"A 08","t":14.5,"v":10.7},{"s":"A 08","t":15.5,"v":10.9},{"s":"A 08","t":15.8,"v":10.6},{"s":"A 08","t":15.95,"v":12.6},{"s":"A 08","t":16.2,"v":10.8},{"s":"A 08","t":17,"v":11.3},{"s":"A 08","t":18,"v":11.6},{"s":"A 08","t":19,"v":11.5},{"s":"A 08","t":20,"v":11.6},{"s":"A 08","t":21,"v":11.5},{"s":"A 08","t":22,"v":11.6},{"s":"A 08","t":23,"v":11.7},{"s":"A 08","t":23.2,"v":13.4},{"s":"A 08","t":23.4,"v":11.8},{"s":"A 08","t":24,"v":11.7},{"s":"A 08","t":25,"v":11.6},{"s":"A 08","t":26,"v":11.8},{"s":"A 08","t":27,"v":11.9},{"s":"A 08","t":28,"v":11.7},{"s":"A 08","t":28.2,"v":13.2},{"s":"A 08","t":28.6,"v":12.6},{"s":"A 08","t":29,"v":13.3},{"s":"A 08","t":29.4,"v":12.5},{"s":"A 08","t":29.8,"v":13.0},{"s":"A 08","t":30.2,"v":12.4},{"s":"A 08","t":30.6,"v":11.8},{"s":"A 08","t":31,"v":11.6},{"s":"A 08","t":32,"v":11.5},{"s":"A 08","t":33,"v":11.6},{"s":"A 08","t":34,"v":11.4},{"s":"A 08","t":34.5,"v":12.8},{"s":"A 08","t":34.8,"v":11.5},{"s":"A 08","t":35,"v":11.7},{"s":"A 08","t":36,"v":11.6},{"s":"A 08","t":37,"v":11.7},{"s":"A 08","t":38,"v":11.6},{"s":"A 08","t":39,"v":11.8},{"s":"A 08","t":39.6,"v":12.9},{"s":"A 08","t":40,"v":13.2},{"s":"A 08","t":40.5,"v":12.8},{"s":"A 08","t":41,"v":13.1},{"s":"A 08","t":41.6,"v":12.9},
{"s":"A 07","t":12.6,"v":12.5},{"s":"A 07","t":13.0,"v":13.4},{"s":"A 07","t":13.4,"v":12.2},{"s":"A 07","t":13.8,"v":13.6},{"s":"A 07","t":14.2,"v":12.4},{"s":"A 07","t":14.6,"v":13.9},{"s":"A 07","t":15.0,"v":12.6},{"s":"A 07","t":15.4,"v":13.3},{"s":"A 07","t":15.7,"v":12.8},{"s":"A 07","t":15.9,"v":19.0},{"s":"A 07","t":16.0,"v":20.6},{"s":"A 07","t":16.1,"v":15.0},{"s":"A 07","t":16.25,"v":19.8},{"s":"A 07","t":16.4,"v":14.2},{"s":"A 07","t":16.6,"v":13.8},{"s":"A 07","t":16.9,"v":14.3},{"s":"A 07","t":17.2,"v":13.6},{"s":"A 07","t":17.4,"v":16.8},{"s":"A 07","t":17.6,"v":15.8},{"s":"A 07","t":17.8,"v":17.6},{"s":"A 07","t":18.0,"v":15.9},{"s":"A 07","t":18.2,"v":17.2},{"s":"A 07","t":18.4,"v":16.1},{"s":"A 07","t":18.6,"v":18.4},{"s":"A 07","t":18.8,"v":15.8},{"s":"A 07","t":19.0,"v":17.3},{"s":"A 07","t":19.2,"v":16.0},{"s":"A 07","t":19.4,"v":17.9},{"s":"A 07","t":19.6,"v":15.7},{"s":"A 07","t":19.8,"v":18.2},{"s":"A 07","t":20.0,"v":16.2},{"s":"A 07","t":20.2,"v":17.4},{"s":"A 07","t":20.4,"v":15.9},{"s":"A 07","t":20.6,"v":18.6},{"s":"A 07","t":20.8,"v":16.0},{"s":"A 07","t":21.0,"v":17.2},{"s":"A 07","t":21.2,"v":15.5},{"s":"A 07","t":21.35,"v":13.8},{"s":"A 07","t":21.6,"v":12.9},{"s":"A 07","t":22.0,"v":13.4},{"s":"A 07","t":22.4,"v":12.8},{"s":"A 07","t":22.8,"v":13.3},{"s":"A 07","t":23.2,"v":12.7},{"s":"A 07","t":23.6,"v":13.1},{"s":"A 07","t":24.0,"v":12.6},{"s":"A 07","t":24.4,"v":13.2},{"s":"A 07","t":24.8,"v":12.5},{"s":"A 07","t":25.2,"v":13.0},{"s":"A 07","t":25.6,"v":12.6},{"s":"A 07","t":26.0,"v":13.3},{"s":"A 07","t":26.4,"v":12.8},{"s":"A 07","t":26.8,"v":13.1},{"s":"A 07","t":27.2,"v":12.5},{"s":"A 07","t":27.6,"v":13.0},{"s":"A 07","t":27.9,"v":12.6},{"s":"A 07","t":28.1,"v":15.8},{"s":"A 07","t":28.3,"v":14.6},{"s":"A 07","t":28.5,"v":16.9},{"s":"A 07","t":28.7,"v":15.0},{"s":"A 07","t":28.9,"v":17.3},{"s":"A 07","t":29.1,"v":15.2},{"s":"A 07","t":29.3,"v":16.6},{"s":"A 07","t":29.5,"v":14.9},{"s":"A 07","t":29.7,"v":17.8},{"s":"A 07","t":29.9,"v":15.4},{"s":"A 07","t":30.1,"v":17.0},{"s":"A 07","t":30.3,"v":15.1},{"s":"A 07","t":30.5,"v":18.1},{"s":"A 07","t":30.7,"v":15.6},{"s":"A 07","t":30.9,"v":17.4},{"s":"A 07","t":31.1,"v":15.3},{"s":"A 07","t":31.3,"v":18.4},{"s":"A 07","t":31.5,"v":15.8},{"s":"A 07","t":31.7,"v":17.6},{"s":"A 07","t":31.9,"v":15.5},{"s":"A 07","t":32.1,"v":18.6},{"s":"A 07","t":32.3,"v":15.9},{"s":"A 07","t":32.5,"v":17.8},{"s":"A 07","t":32.7,"v":15.6},{"s":"A 07","t":32.9,"v":18.9},{"s":"A 07","t":33.1,"v":16.0},{"s":"A 07","t":33.3,"v":18.2},{"s":"A 07","t":33.5,"v":15.7},{"s":"A 07","t":33.7,"v":17.5},{"s":"A 07","t":33.9,"v":15.4},{"s":"A 07","t":34.1,"v":18.3},{"s":"A 07","t":34.3,"v":15.6},{"s":"A 07","t":34.5,"v":17.9},{"s":"A 07","t":34.7,"v":15.3},{"s":"A 07","t":34.9,"v":18.1},{"s":"A 07","t":35.1,"v":15.8},{"s":"A 07","t":35.3,"v":19.4},{"s":"A 07","t":35.5,"v":16.0},{"s":"A 07","t":35.7,"v":18.4},{"s":"A 07","t":35.9,"v":15.9},{"s":"A 07","t":36.1,"v":20.2},{"s":"A 07","t":36.3,"v":16.2},{"s":"A 07","t":36.5,"v":19.0},{"s":"A 07","t":36.7,"v":16.4},{"s":"A 07","t":36.9,"v":20.4},{"s":"A 07","t":37.1,"v":16.1},{"s":"A 07","t":37.3,"v":19.6},{"s":"A 07","t":37.5,"v":16.5},{"s":"A 07","t":37.7,"v":20.9},{"s":"A 07","t":37.9,"v":16.3},{"s":"A 07","t":38.1,"v":19.2},{"s":"A 07","t":38.3,"v":16.0},{"s":"A 07","t":38.5,"v":19.8},{"s":"A 07","t":38.7,"v":16.4},{"s":"A 07","t":38.9,"v":18.8},{"s":"A 07","t":39.1,"v":16.2},{"s":"A 07","t":39.3,"v":20.8},{"s":"A 07","t":39.45,"v":17.0},{"s":"A 07","t":39.55,"v":19.5},{"s":"A 07","t":39.7,"v":14.6},{"s":"A 07","t":39.9,"v":15.3},{"s":"A 07","t":40.1,"v":14.2},{"s":"A 07","t":40.3,"v":15.5},{"s":"A 07","t":40.5,"v":14.4},{"s":"A 07","t":40.7,"v":15.0},{"s":"A 07","t":40.9,"v":13.9},{"s":"A 07","t":41.1,"v":15.2},{"s":"A 07","t":41.3,"v":14.1},{"s":"A 07","t":41.5,"v":14.8},{"s":"A 07","t":41.6,"v":13.6},
{"s":"A 06","t":12.6,"v":10.8},{"s":"A 06","t":13.5,"v":11.1},{"s":"A 06","t":14.5,"v":10.9},{"s":"A 06","t":15.5,"v":11.2},{"s":"A 06","t":15.8,"v":11.0},{"s":"A 06","t":15.95,"v":18.3},{"s":"A 06","t":16.1,"v":15.0},{"s":"A 06","t":16.3,"v":16.2},{"s":"A 06","t":16.5,"v":14.4},{"s":"A 06","t":16.8,"v":14.9},{"s":"A 06","t":17.1,"v":14.2},{"s":"A 06","t":17.4,"v":14.6},{"s":"A 06","t":17.7,"v":13.9},{"s":"A 06","t":18.0,"v":14.4},{"s":"A 06","t":18.5,"v":14.8},{"s":"A 06","t":19.0,"v":15.2},{"s":"A 06","t":19.5,"v":14.6},{"s":"A 06","t":20.0,"v":15.4},{"s":"A 06","t":20.5,"v":14.8},{"s":"A 06","t":21.0,"v":14.6},{"s":"A 06","t":21.5,"v":14.9},{"s":"A 06","t":22.0,"v":15.6},{"s":"A 06","t":22.5,"v":14.8},{"s":"A 06","t":23.0,"v":14.6},{"s":"A 06","t":23.5,"v":14.9},{"s":"A 06","t":24.0,"v":15.1},{"s":"A 06","t":24.5,"v":14.7},{"s":"A 06","t":25.0,"v":14.4},{"s":"A 06","t":25.5,"v":14.9},{"s":"A 06","t":26.0,"v":15.3},{"s":"A 06","t":26.5,"v":14.5},{"s":"A 06","t":27.0,"v":14.2},{"s":"A 06","t":27.5,"v":14.4},{"s":"A 06","t":28.0,"v":14.1},{"s":"A 06","t":28.5,"v":14.3},{"s":"A 06","t":29.0,"v":14.0},{"s":"A 06","t":29.5,"v":13.6},{"s":"A 06","t":30.0,"v":13.0},{"s":"A 06","t":30.5,"v":12.4},{"s":"A 06","t":31.0,"v":12.2},{"s":"A 06","t":31.5,"v":12.3},{"s":"A 06","t":32.0,"v":12.1},{"s":"A 06","t":33.0,"v":12.2},{"s":"A 06","t":34.0,"v":12.0},{"s":"A 06","t":34.5,"v":11.7},{"s":"A 06","t":35.0,"v":11.9},{"s":"A 06","t":35.5,"v":11.6},{"s":"A 06","t":36.0,"v":12.0},{"s":"A 06","t":36.5,"v":12.4},{"s":"A 06","t":37.0,"v":12.3},{"s":"A 06","t":37.5,"v":12.6},{"s":"A 06","t":38.0,"v":12.4},{"s":"A 06","t":38.5,"v":12.6},{"s":"A 06","t":39.0,"v":12.3},{"s":"A 06","t":39.5,"v":12.5},{"s":"A 06","t":40.0,"v":12.2},{"s":"A 06","t":40.5,"v":12.1},{"s":"A 06","t":41.0,"v":11.8},{"s":"A 06","t":41.6,"v":11.5},
{"s":"A 05","t":12.6,"v":11.4},{"s":"A 05","t":13.5,"v":11.6},{"s":"A 05","t":14.5,"v":11.3},{"s":"A 05","t":15.5,"v":11.5},{"s":"A 05","t":15.9,"v":12.5},{"s":"A 05","t":16.2,"v":13.6},{"s":"A 05","t":17,"v":13.9},{"s":"A 05","t":18,"v":13.7},{"s":"A 05","t":19,"v":14.0},{"s":"A 05","t":19.5,"v":13.5},{"s":"A 05","t":20,"v":13.8},{"s":"A 05","t":20.5,"v":12.8},{"s":"A 05","t":21,"v":12.4},{"s":"A 05","t":22,"v":12.3},{"s":"A 05","t":23,"v":12.5},{"s":"A 05","t":23.3,"v":13.2},{"s":"A 05","t":23.6,"v":12.4},{"s":"A 05","t":24,"v":12.2},{"s":"A 05","t":25,"v":12.4},{"s":"A 05","t":25.2,"v":13.1},{"s":"A 05","t":25.5,"v":12.3},{"s":"A 05","t":26,"v":12.2},{"s":"A 05","t":27,"v":12.1},{"s":"A 05","t":28,"v":12.0},{"s":"A 05","t":29,"v":12.2},{"s":"A 05","t":30,"v":12.0},{"s":"A 05","t":31,"v":11.8},{"s":"A 05","t":32,"v":11.9},{"s":"A 05","t":33,"v":11.7},{"s":"A 05","t":34,"v":11.6},{"s":"A 05","t":35,"v":11.5},{"s":"A 05","t":36,"v":11.4},{"s":"A 05","t":37,"v":11.2},{"s":"A 05","t":38,"v":11.1},{"s":"A 05","t":39,"v":11.3},{"s":"A 05","t":39.6,"v":13.5},{"s":"A 05","t":40,"v":13.8},{"s":"A 05","t":41,"v":13.9},{"s":"A 05","t":41.6,"v":14.0},
{"s":"A 03","t":12.6,"v":12.5},{"s":"A 03","t":12.8,"v":14.2},{"s":"A 03","t":13.0,"v":11.8},{"s":"A 03","t":13.2,"v":13.9},{"s":"A 03","t":13.4,"v":12.2},{"s":"A 03","t":13.6,"v":14.6},{"s":"A 03","t":13.8,"v":12.0},{"s":"A 03","t":14.0,"v":13.5},{"s":"A 03","t":14.2,"v":11.6},{"s":"A 03","t":14.4,"v":14.4},{"s":"A 03","t":14.6,"v":12.3},{"s":"A 03","t":14.8,"v":13.8},{"s":"A 03","t":15.0,"v":12.1},{"s":"A 03","t":15.2,"v":14.2},{"s":"A 03","t":15.4,"v":12.4},{"s":"A 03","t":15.6,"v":13.6},{"s":"A 03","t":15.8,"v":12.6},{"s":"A 03","t":15.95,"v":16.8},{"s":"A 03","t":16.1,"v":14.5},{"s":"A 03","t":16.3,"v":16.5},{"s":"A 03","t":16.5,"v":14.2},{"s":"A 03","t":16.7,"v":15.8},{"s":"A 03","t":16.9,"v":14.0},{"s":"A 03","t":17.1,"v":15.6},{"s":"A 03","t":17.3,"v":14.3},{"s":"A 03","t":17.5,"v":16.0},{"s":"A 03","t":17.7,"v":14.1},{"s":"A 03","t":17.9,"v":15.4},{"s":"A 03","t":18.1,"v":13.9},{"s":"A 03","t":18.3,"v":15.7},{"s":"A 03","t":18.5,"v":14.2},{"s":"A 03","t":18.7,"v":15.2},{"s":"A 03","t":18.9,"v":13.8},{"s":"A 03","t":19.1,"v":15.5},{"s":"A 03","t":19.3,"v":14.0},{"s":"A 03","t":19.5,"v":15.3},{"s":"A 03","t":19.7,"v":13.6},{"s":"A 03","t":19.9,"v":15.0},{"s":"A 03","t":20.1,"v":13.9},{"s":"A 03","t":20.3,"v":15.4},{"s":"A 03","t":20.5,"v":13.7},{"s":"A 03","t":20.7,"v":14.9},{"s":"A 03","t":20.9,"v":13.5},{"s":"A 03","t":21.1,"v":15.1},{"s":"A 03","t":21.3,"v":13.4},{"s":"A 03","t":21.5,"v":14.6},{"s":"A 03","t":21.7,"v":13.2},{"s":"A 03","t":21.9,"v":14.8},{"s":"A 03","t":22.1,"v":13.3},{"s":"A 03","t":22.3,"v":14.5},{"s":"A 03","t":22.5,"v":13.0},{"s":"A 03","t":22.7,"v":14.7},{"s":"A 03","t":22.9,"v":13.4},{"s":"A 03","t":23.1,"v":14.3},{"s":"A 03","t":23.3,"v":12.9},{"s":"A 03","t":23.5,"v":14.6},{"s":"A 03","t":23.7,"v":13.1},{"s":"A 03","t":23.9,"v":14.4},{"s":"A 03","t":24.1,"v":13.2},{"s":"A 03","t":24.3,"v":14.5},{"s":"A 03","t":24.5,"v":12.9},{"s":"A 03","t":24.7,"v":14.2},{"s":"A 03","t":24.9,"v":13.3},{"s":"A 03","t":25.1,"v":14.6},{"s":"A 03","t":25.3,"v":13.0},{"s":"A 03","t":25.5,"v":14.1},{"s":"A 03","t":25.7,"v":12.8},{"s":"A 03","t":25.9,"v":14.3},{"s":"A 03","t":26.1,"v":13.1},{"s":"A 03","t":26.3,"v":14.5},{"s":"A 03","t":26.5,"v":13.2},{"s":"A 03","t":26.7,"v":14.0},{"s":"A 03","t":26.9,"v":12.9},{"s":"A 03","t":27.1,"v":14.4},{"s":"A 03","t":27.3,"v":13.2},{"s":"A 03","t":27.5,"v":14.1},{"s":"A 03","t":27.7,"v":13.0},{"s":"A 03","t":27.9,"v":13.8},{"s":"A 03","t":27.95,"v":8.0},{"s":"A 03","t":28.0,"v":14.8},{"s":"A 03","t":28.2,"v":13.4},{"s":"A 03","t":28.4,"v":14.9},{"s":"A 03","t":28.6,"v":13.6},{"s":"A 03","t":28.8,"v":15.0},{"s":"A 03","t":29.0,"v":13.5},{"s":"A 03","t":29.2,"v":14.7},{"s":"A 03","t":29.4,"v":13.3},{"s":"A 03","t":29.6,"v":15.1},{"s":"A 03","t":29.8,"v":13.6},{"s":"A 03","t":30.0,"v":14.8},{"s":"A 03","t":30.2,"v":13.4},{"s":"A 03","t":30.4,"v":15.2},{"s":"A 03","t":30.6,"v":13.7},{"s":"A 03","t":30.8,"v":14.6},{"s":"A 03","t":31.0,"v":13.3},{"s":"A 03","t":31.2,"v":14.9},{"s":"A 03","t":31.4,"v":13.5},{"s":"A 03","t":31.6,"v":14.7},{"s":"A 03","t":31.8,"v":13.2},{"s":"A 03","t":32.0,"v":14.5},{"s":"A 03","t":32.2,"v":13.4},{"s":"A 03","t":32.4,"v":14.8},{"s":"A 03","t":32.6,"v":13.1},{"s":"A 03","t":32.8,"v":14.3},{"s":"A 03","t":33.0,"v":13.0},{"s":"A 03","t":33.2,"v":14.6},{"s":"A 03","t":33.4,"v":12.9},{"s":"A 03","t":33.6,"v":14.2},{"s":"A 03","t":33.8,"v":12.6},{"s":"A 03","t":34.0,"v":14.0},{"s":"A 03","t":34.2,"v":12.4},{"s":"A 03","t":34.4,"v":14.3},{"s":"A 03","t":34.6,"v":12.5},{"s":"A 03","t":34.8,"v":14.6},{"s":"A 03","t":35.0,"v":12.8},{"s":"A 03","t":35.2,"v":14.4},{"s":"A 03","t":35.4,"v":12.9},{"s":"A 03","t":35.6,"v":14.8},{"s":"A 03","t":35.8,"v":13.2},{"s":"A 03","t":36.0,"v":15.0},{"s":"A 03","t":36.2,"v":13.1},{"s":"A 03","t":36.4,"v":15.4},{"s":"A 03","t":36.6,"v":13.5},{"s":"A 03","t":36.8,"v":16.2},{"s":"A 03","t":37.0,"v":13.6},{"s":"A 03","t":37.2,"v":15.8},{"s":"A 03","t":37.4,"v":13.4},{"s":"A 03","t":37.6,"v":16.8},{"s":"A 03","t":37.8,"v":13.9},{"s":"A 03","t":38.0,"v":15.6},{"s":"A 03","t":38.2,"v":13.3},{"s":"A 03","t":38.4,"v":16.5},{"s":"A 03","t":38.6,"v":14.0},{"s":"A 03","t":38.8,"v":15.9},{"s":"A 03","t":39.0,"v":13.8},{"s":"A 03","t":39.2,"v":16.6},{"s":"A 03","t":39.4,"v":14.2},{"s":"A 03","t":39.6,"v":16.0},{"s":"A 03","t":39.8,"v":14.6},{"s":"A 03","t":40.0,"v":16.1},{"s":"A 03","t":40.2,"v":14.9},{"s":"A 03","t":40.4,"v":15.6},{"s":"A 03","t":40.6,"v":14.7},{"s":"A 03","t":40.8,"v":16.0},{"s":"A 03","t":41.0,"v":15.0},{"s":"A 03","t":41.2,"v":16.3},{"s":"A 03","t":41.4,"v":14.8},{"s":"A 03","t":41.6,"v":17.5},
{"s":"A 02","t":12.6,"v":9.2},{"s":"A 02","t":13.0,"v":8.6},{"s":"A 02","t":13.5,"v":8.9},{"s":"A 02","t":14.0,"v":8.7},{"s":"A 02","t":14.5,"v":9.1},{"s":"A 02","t":15.0,"v":9.3},{"s":"A 02","t":15.4,"v":9.8},{"s":"A 02","t":15.7,"v":9.6},{"s":"A 02","t":15.85,"v":12.2},{"s":"A 02","t":15.95,"v":9.0},{"s":"A 02","t":16.1,"v":10.2},{"s":"A 02","t":16.5,"v":10.4},{"s":"A 02","t":17.0,"v":10.8},{"s":"A 02","t":17.3,"v":11.3},{"s":"A 02","t":17.5,"v":8.6},{"s":"A 02","t":17.7,"v":10.5},{"s":"A 02","t":17.9,"v":8.1},{"s":"A 02","t":18.1,"v":10.8},{"s":"A 02","t":18.4,"v":11.0},{"s":"A 02","t":18.6,"v":10.5},{"s":"A 02","t":18.8,"v":6.9},{"s":"A 02","t":19.0,"v":8.2},{"s":"A 02","t":19.2,"v":8.9},{"s":"A 02","t":19.5,"v":9.3},{"s":"A 02","t":19.8,"v":8.7},{"s":"A 02","t":20.1,"v":9.2},{"s":"A 02","t":20.4,"v":8.8},{"s":"A 02","t":20.5,"v":10.4},{"s":"A 02","t":21.0,"v":10.5},{"s":"A 02","t":21.5,"v":10.3},{"s":"A 02","t":22.0,"v":10.4},{"s":"A 02","t":22.5,"v":10.6},{"s":"A 02","t":23.0,"v":10.4},{"s":"A 02","t":23.2,"v":7.2},{"s":"A 02","t":23.35,"v":10.2},{"s":"A 02","t":23.6,"v":10.4},{"s":"A 02","t":24.0,"v":10.3},{"s":"A 02","t":24.5,"v":10.5},{"s":"A 02","t":24.9,"v":10.2},{"s":"A 02","t":25.0,"v":7.4},{"s":"A 02","t":25.15,"v":9.6},{"s":"A 02","t":25.5,"v":9.8},{"s":"A 02","t":26.0,"v":9.9},{"s":"A 02","t":26.5,"v":10.4},{"s":"A 02","t":27.0,"v":10.6},{"s":"A 02","t":27.5,"v":10.3},{"s":"A 02","t":27.9,"v":9.8},{"s":"A 02","t":28.0,"v":8.0},{"s":"A 02","t":28.2,"v":9.4},{"s":"A 02","t":28.6,"v":9.6},{"s":"A 02","t":29.0,"v":9.2},{"s":"A 02","t":29.3,"v":9.0},{"s":"A 02","t":29.45,"v":7.3},{"s":"A 02","t":29.6,"v":7.8},{"s":"A 02","t":29.8,"v":8.9},{"s":"A 02","t":30.0,"v":9.5},{"s":"A 02","t":30.5,"v":9.3},{"s":"A 02","t":31.0,"v":9.0},{"s":"A 02","t":31.5,"v":9.2},{"s":"A 02","t":32.0,"v":8.9},{"s":"A 02","t":32.5,"v":9.1},{"s":"A 02","t":33.0,"v":8.8},{"s":"A 02","t":33.5,"v":9.0},{"s":"A 02","t":34.0,"v":8.8},{"s":"A 02","t":34.5,"v":8.6},{"s":"A 02","t":35.0,"v":8.9},{"s":"A 02","t":35.5,"v":9.6},{"s":"A 02","t":36.0,"v":10.1},{"s":"A 02","t":36.5,"v":10.0},{"s":"A 02","t":36.7,"v":10.9},{"s":"A 02","t":36.9,"v":9.4},{"s":"A 02","t":37.1,"v":11.2},{"s":"A 02","t":37.3,"v":9.0},{"s":"A 02","t":37.5,"v":10.8},{"s":"A 02","t":37.7,"v":8.9},{"s":"A 02","t":37.9,"v":11.6},{"s":"A 02","t":38.1,"v":9.3},{"s":"A 02","t":38.3,"v":12.4},{"s":"A 02","t":38.5,"v":9.1},{"s":"A 02","t":38.7,"v":11.0},{"s":"A 02","t":38.9,"v":8.8},{"s":"A 02","t":39.1,"v":12.0},{"s":"A 02","t":39.3,"v":9.4},{"s":"A 02","t":39.5,"v":11.4},{"s":"A 02","t":39.65,"v":8.6},{"s":"A 02","t":40.0,"v":7.9},{"s":"A 02","t":40.3,"v":7.1},{"s":"A 02","t":40.6,"v":6.4},{"s":"A 02","t":40.9,"v":5.6},{"s":"A 02","t":41.1,"v":7.0},{"s":"A 02","t":41.3,"v":8.6},{"s":"A 02","t":41.45,"v":7.8},{"s":"A 02","t":41.6,"v":10.9},
{"s":"A 01","t":12.6,"v":9.4},{"s":"A 01","t":13.0,"v":9.6},{"s":"A 01","t":13.5,"v":9.3},{"s":"A 01","t":14.0,"v":9.6},{"s":"A 01","t":14.5,"v":9.4},{"s":"A 01","t":15.0,"v":9.3},{"s":"A 01","t":15.5,"v":9.0},{"s":"A 01","t":15.8,"v":8.9},{"s":"A 01","t":15.9,"v":10.2},{"s":"A 01","t":16.0,"v":8.2},{"s":"A 01","t":16.2,"v":10.6},{"s":"A 01","t":16.6,"v":10.2},{"s":"A 01","t":17.0,"v":10.5},{"s":"A 01","t":17.5,"v":10.8},{"s":"A 01","t":18.0,"v":11.1},{"s":"A 01","t":18.5,"v":11.4},{"s":"A 01","t":18.8,"v":12.0},{"s":"A 01","t":19.2,"v":12.2},{"s":"A 01","t":19.6,"v":12.0},{"s":"A 01","t":20.0,"v":12.3},{"s":"A 01","t":20.4,"v":12.1},{"s":"A 01","t":20.6,"v":11.2},{"s":"A 01","t":21.0,"v":11.0},{"s":"A 01","t":21.5,"v":11.2},{"s":"A 01","t":22.0,"v":11.0},{"s":"A 01","t":22.5,"v":11.3},{"s":"A 01","t":23.0,"v":11.1},{"s":"A 01","t":23.2,"v":12.8},{"s":"A 01","t":23.5,"v":12.3},{"s":"A 01","t":23.8,"v":11.6},{"s":"A 01","t":24.2,"v":11.3},{"s":"A 01","t":24.6,"v":11.0},{"s":"A 01","t":24.9,"v":11.2},{"s":"A 01","t":25.0,"v":12.6},{"s":"A 01","t":25.2,"v":12.5},{"s":"A 01","t":25.5,"v":11.8},{"s":"A 01","t":26.0,"v":11.2},{"s":"A 01","t":26.4,"v":11.8},{"s":"A 01","t":26.7,"v":11.4},{"s":"A 01","t":27.0,"v":11.0},{"s":"A 01","t":27.5,"v":10.6},{"s":"A 01","t":27.9,"v":10.4},{"s":"A 01","t":27.95,"v":8.0},{"s":"A 01","t":28.0,"v":10.8},{"s":"A 01","t":28.5,"v":10.1},{"s":"A 01","t":29.0,"v":10.2},{"s":"A 01","t":29.5,"v":11.3},{"s":"A 01","t":29.7,"v":11.2},{"s":"A 01","t":30.0,"v":10.5},{"s":"A 01","t":30.5,"v":10.0},{"s":"A 01","t":31.0,"v":9.9},{"s":"A 01","t":31.5,"v":9.8},{"s":"A 01","t":32.0,"v":9.9},{"s":"A 01","t":32.5,"v":9.6},{"s":"A 01","t":33.0,"v":9.5},{"s":"A 01","t":33.5,"v":9.2},{"s":"A 01","t":34.0,"v":9.4},{"s":"A 01","t":34.5,"v":9.6},{"s":"A 01","t":35.0,"v":9.5},{"s":"A 01","t":35.5,"v":9.9},{"s":"A 01","t":36.0,"v":10.3},{"s":"A 01","t":36.4,"v":10.4},{"s":"A 01","t":36.7,"v":11.9},{"s":"A 01","t":37.0,"v":12.1},{"s":"A 01","t":37.3,"v":11.8},{"s":"A 01","t":37.6,"v":12.4},{"s":"A 01","t":37.9,"v":12.8},{"s":"A 01","t":38.2,"v":12.5},{"s":"A 01","t":38.5,"v":13.0},{"s":"A 01","t":38.8,"v":12.6},{"s":"A 01","t":39.1,"v":13.1},{"s":"A 01","t":39.4,"v":12.7},{"s":"A 01","t":39.7,"v":13.2},{"s":"A 01","t":40.0,"v":12.9},{"s":"A 01","t":40.3,"v":13.0},{"s":"A 01","t":40.6,"v":12.8},{"s":"A 01","t":40.9,"v":13.1},{"s":"A 01","t":41.2,"v":12.9},{"s":"A 01","t":41.4,"v":13.5},{"s":"A 01","t":41.6,"v":13.8}
]},
"mark":{"type":"line","strokeWidth":1.5,"clip":true},
"encoding":{
 "x":{"field":"t","type":"quantitative","scale":{"domain":[11.19,43.1],"nice":false,"zero":false},
  "axis":{"values":[12,14,16,18,20,22,24,26,28,30,32,34,36,38,40,42],"labelExpr":"(datum.value % 24 < 10 ? '0' : '') + (datum.value % 24)","title":"Time (Hours)","labelPadding":5,"titlePadding":9}},
 "y":{"field":"v","type":"quantitative","scale":{"domain":[-4.83,24.8],"nice":false,"zero":false},
  "axis":{"values":[0,6,12,18,24],"title":"Anode CD (kA)","labelPadding":5,"titlePadding":9}},
 "detail":{"field":"g","type":"nominal"},
 "color":{"field":"s","type":"nominal",
  "scale":{"domain":["A 01","A 02","A 03","A 05","A 06","A 07","A 08","A 09","A 10","A 11","A 12","A 13","A 14","A 15","A 16","A 17","A 18","A 19","A 20","A 21","A 22","A 23","A 24"],
   "range":["#ff0000","#00ffff","#0000ff","#add8e6","#800080","#ffff00","#00ff00","#ff00ff","#c0c0c0","#808080","#000000","#ffa500","#f5cd9b","#800000","#808000","#a0b4cf","#4862a3","#5f8060","#b4847f","#ffff00","#808080","#555a45","#f0d8d8"]},
  "legend":{"orient":"none","legendX":-77,"legendY":391,"direction":"horizontal","columns":17,"title":null,"symbolType":"square","symbolSize":121,"labelFont":"DejaVu Sans","labelFontSize":14,"labelColor":"#000000","labelOffset":6,"columnPadding":13.5,"rowPadding":18,"padding":9,"fillColor":"white","strokeColor":"#444444",
   "encode":{"symbols":{"update":{"fill":{"scale":"color","field":"value"},"fillOpacity":{"value":1},"strokeWidth":{"value":0}}}}}}
}
}
